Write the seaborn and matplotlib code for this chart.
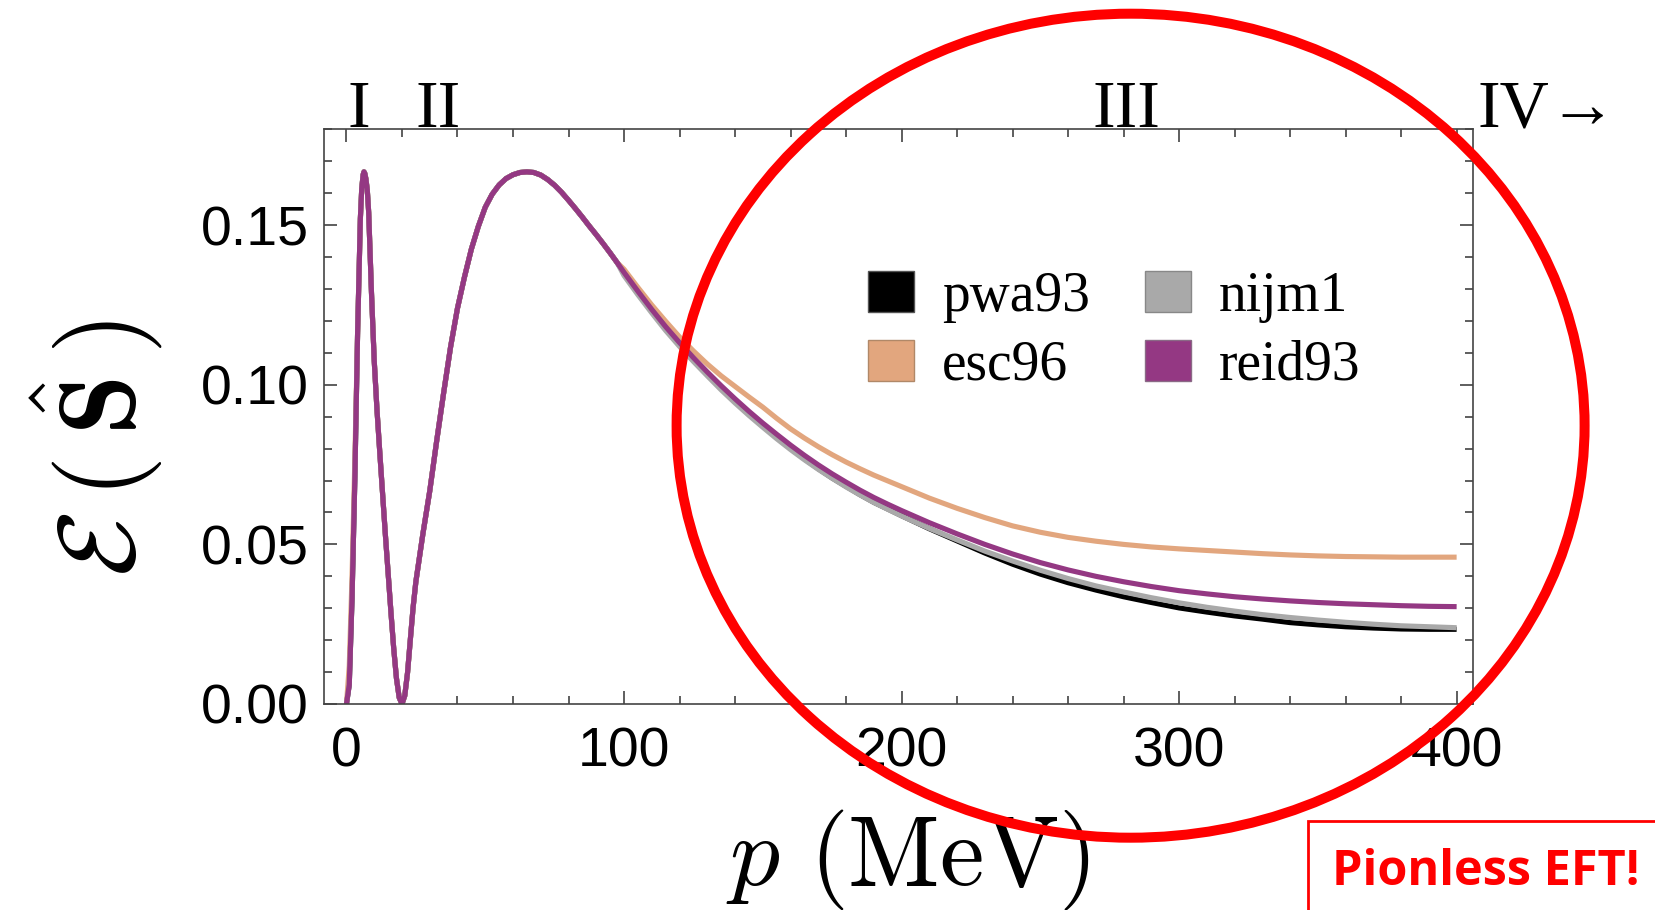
import numpy as np
import pandas as pd
import matplotlib
matplotlib.use("Agg")
import matplotlib.pyplot as plt
import seaborn as sns
from matplotlib.patches import Patch, Ellipse, Rectangle
from matplotlib.ticker import MultipleLocator, FormatStrFormatter
import matplotlib.transforms as mtransforms

# ---------------- data ----------------
p_mev = [0, 1, 2, 3, 4, 5, 5.5, 6, 6.3, 6.6, 7, 7.5, 8,
         9, 10, 11, 12, 13, 14, 15, 16, 17, 18, 19, 20,
         21, 22, 23, 24, 25,
         27.5, 30, 32.5, 35, 37.5, 40, 42.5, 45, 47.5, 50, 52.5, 55, 57.5, 60, 62.5, 65,
         67.5, 70, 72.5, 75, 77.5, 80, 82.5, 85, 87.5, 90, 92.5, 95, 97.5,
         100, 105, 110, 115, 120, 125, 130, 135, 140, 145, 150, 155, 160, 165, 170, 175,
         180, 185, 190, 195, 200,
         210, 220, 230, 240, 250, 260, 270, 280, 290, 300, 310, 320, 330, 340, 350, 360,
         370, 380, 390, 400]

# region below 100 MeV where all four models coincide
common_low = [0.0, 0.006, 0.033, 0.070, 0.116, 0.152, 0.1615, 0.1658, 0.1667, 0.1662, 0.1645,
              0.161, 0.154,
              0.129, 0.1075, 0.092, 0.0788, 0.066, 0.0532, 0.0411, 0.029, 0.0176, 0.0081,
              0.002, 0.0,
              0.0026, 0.0098, 0.0201, 0.0302, 0.0383,
              0.0531, 0.0667, 0.0824, 0.0974, 0.1118, 0.1240, 0.1337, 0.1425, 0.1496, 0.1556,
              0.1597, 0.1626, 0.1646, 0.1658, 0.1665, 0.1667,
              0.1665, 0.1657, 0.1643, 0.1625, 0.1603, 0.1578, 0.1552, 0.1525, 0.1497, 0.1470,
              0.1442, 0.1413, 0.1383]
esc96_start = [0.0, 0.012, 0.040, 0.076]

reid93_tail = [0.1352, 0.1293, 0.1236, 0.1182, 0.1132, 0.1085, 0.1040, 0.0997, 0.0956, 0.0917,
               0.0880, 0.0845, 0.0811, 0.0779, 0.0749, 0.0721, 0.0695, 0.0670, 0.0647, 0.0626,
               0.0606,
               0.0568, 0.0533, 0.0500, 0.0470, 0.0443, 0.0420, 0.0400, 0.0383, 0.0368, 0.0355,
               0.0345, 0.0336, 0.0329, 0.0323, 0.0318, 0.0314, 0.0311, 0.0308, 0.0306, 0.0305]
pwa93_tail = [0.1352, 0.1292, 0.1235, 0.1180, 0.1129, 0.1081, 0.1036, 0.0992, 0.0950, 0.0910,
              0.0872, 0.0836, 0.0801, 0.0768, 0.0737, 0.0708, 0.0682, 0.0656, 0.0632, 0.0611,
              0.0590,
              0.0549, 0.0511, 0.0473, 0.0438, 0.0407, 0.0380, 0.0357, 0.0336, 0.0318, 0.0301,
              0.0288, 0.0276, 0.0266, 0.0255, 0.0248, 0.0242, 0.0238, 0.0235, 0.0234, 0.0234]
nijm1_tail = [0.1342, 0.1282, 0.1225, 0.1170, 0.1120, 0.1073, 0.1028, 0.0984, 0.0943, 0.0904,
              0.0867, 0.0831, 0.0797, 0.0765, 0.0735, 0.0707, 0.0680, 0.0655, 0.0631, 0.0610,
              0.0589,
              0.0550, 0.0514, 0.0479, 0.0448, 0.0419, 0.0393, 0.0370, 0.0351, 0.0333, 0.0317,
              0.0303, 0.0291, 0.0280, 0.0271, 0.0263, 0.0256, 0.0250, 0.0245, 0.0242, 0.0239]
esc96_tail = [0.1362, 0.1305, 0.1250, 0.1199, 0.1150, 0.1106, 0.1065, 0.1028, 0.0995, 0.0962,
              0.0930, 0.0895, 0.0862, 0.0833, 0.0806, 0.0781, 0.0758, 0.0737, 0.0717, 0.0699,
              0.0681,
              0.0645, 0.0613, 0.0584, 0.0558, 0.0538, 0.0522, 0.0510, 0.0500, 0.0492, 0.0486,
              0.0481, 0.0476, 0.0471, 0.0467, 0.0464, 0.0462, 0.0461, 0.0460, 0.0460, 0.0460]

pwa93 = common_low + pwa93_tail
esc96 = esc96_start + common_low[4:] + esc96_tail
nijm1 = common_low + nijm1_tail
reid93 = common_low + reid93_tail

models = ["pwa93", "esc96", "nijm1", "reid93"]
series = {"pwa93": pwa93, "esc96": esc96, "nijm1": nijm1, "reid93": reid93}
colors = {"pwa93": "#000000", "esc96": "#E2A67E", "nijm1": "#A9A9A9", "reid93": "#943883"}
edge_colors = {"pwa93": "#555555", "esc96": "#B08868", "nijm1": "#888888", "reid93": "#8A6A86"}

region_labels = ["I", "II", "III", "IV\u2192"]
region_x = [4.4, 33.2, 281.0, 407.6]
region_ha = ["center", "center", "center", "left"]

x_ticks = [0, 100, 200, 300, 400]
y_ticks = [0.00, 0.05, 0.10, 0.15]

df = pd.DataFrame({
    "p": np.concatenate([p_mev for _ in models]),
    "E": np.concatenate([series[m] for m in models]),
    "model": np.repeat(models, len(p_mev)),
})

# ---------------- style ----------------
sns.set_theme(style="ticks")
plt.rcParams["font.family"] = ["Liberation Sans", "DejaVu Sans"]
plt.rcParams["mathtext.fontset"] = "cm"
plt.rcParams["text.color"] = "black"
plt.rcParams["axes.labelcolor"] = "black"

W, H = 1656, 910
fig = plt.figure(figsize=(W / 100, H / 100), dpi=100)
ax_l, ax_r, ax_t, ax_b = 324, 1473, 129.4, 704
ax = fig.add_axes([ax_l / W, 1 - ax_b / H, (ax_r - ax_l) / W, (ax_b - ax_t) / H])

sns.lineplot(data=df, x="p", y="E", hue="model", hue_order=models, palette=colors,
             linewidth=3.7, estimator=None, sort=False, legend=False, ax=ax)
for ln in ax.lines:
    ln.set_solid_joinstyle("round")
    ln.set_solid_capstyle("butt")

ax.set_xlim(-8.1, 405.9)
ax.set_ylim(0, 0.18)
ax.set_xticks(x_ticks)
ax.set_yticks(y_ticks)
ax.xaxis.set_minor_locator(MultipleLocator(20))
ax.yaxis.set_minor_locator(MultipleLocator(0.01))
ax.yaxis.set_major_formatter(FormatStrFormatter("%.2f"))
for sp in ax.spines.values():
    sp.set_color("#444444")
    sp.set_linewidth(1.2)
ax.tick_params(which="both", direction="in", top=True, right=True, color="#333333",
               width=1.1, labelsize=40, labelcolor="black")
ax.tick_params(which="major", length=9.5)
ax.tick_params(which="minor", length=5.8)
ax.tick_params(axis="x", pad=16)
ax.tick_params(axis="y", pad=11)

ax.set_xlabel(r"$p\ (\mathrm{MeV})$", fontsize=72, color="black")
ax.xaxis.label.set_va("baseline")
ax.xaxis.set_label_coords(0.508, -0.315)
ax.set_ylabel(r"$\mathcal{E}\:(\:\hat{\mathbf{S}}\:)$", fontsize=78, color="black")
ax.yaxis.label.set_va("center")
ax.yaxis.set_label_coords(-0.1976, 0.445)

# region labels above the plot
trans = mtransforms.blended_transform_factory(ax.transData, ax.transAxes)
for lab, xv, ha in zip(region_labels, region_x, region_ha):
    ax.text(xv, 1.005, lab, transform=trans, ha=ha, va="baseline", fontsize=49,
            color="black", family=["Liberation Serif", "DejaVu Serif"], clip_on=False)

# legend
handles = [Patch(facecolor=colors[m], edgecolor=edge_colors[m], linewidth=1.0) for m in models]
leg = ax.legend(handles, models, ncol=2, loc="upper left",
                bbox_to_anchor=(868 / W, 1 - 271 / H), bbox_transform=fig.transFigure,
                frameon=False, borderpad=0, borderaxespad=0,
                prop={"family": "Liberation Serif", "size": 40},
                handlelength=0.83, handleheight=0.75, handletextpad=0.5,
                columnspacing=1.0, labelspacing=0.3)
for t in leg.get_texts():
    t.set_color("black")

# red ellipse annotation
ell = Ellipse((1130.6 / W, 1 - 425.7 / H), 2 * 454 / W, 2 * 412 / H,
              transform=fig.transFigure, fill=False, edgecolor="#FF0000", linewidth=7.2,
              clip_on=False, zorder=10)
fig.add_artist(ell)

# "Pionless EFT!" box
box = Rectangle((1308 / W, -0.05), 0.3, 1 - 821 / H + 0.05, transform=fig.transFigure,
                fill=False, edgecolor="#FF0000", linewidth=2.0, clip_on=False)
fig.add_artist(box)
fig.text(1332 / W, 1 - 885 / H, "Pionless EFT!", color="#FF0000", fontsize=35,
         fontweight="bold", family=["Open Sans", "DejaVu Sans"], ha="left", va="baseline")

fig.savefig("out.png", dpi=100)
